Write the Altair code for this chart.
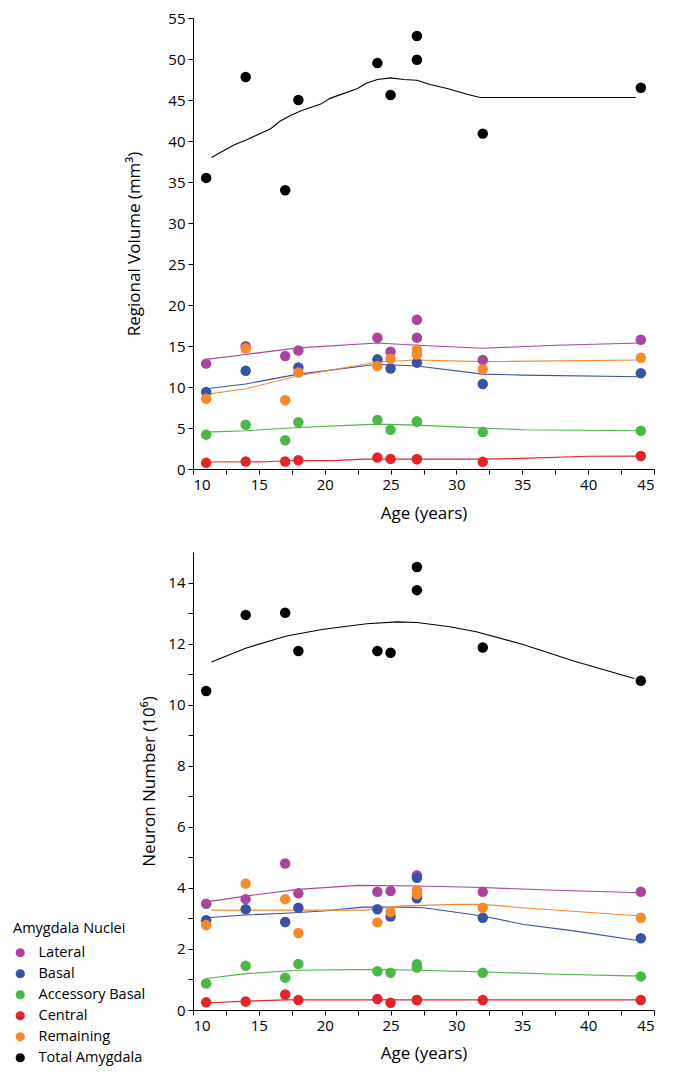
import altair as alt
import pandas as pd

# ---------------- data ----------------
ages = [11, 14, 17, 18, 24, 25, 27, 27, 32, 44]
nuclei = ["Lateral", "Basal", "Accessory Basal", "Central", "Remaining", "Total Amygdala"]
colors = ["#A8459C", "#3953A4", "#4BB748", "#E1252B", "#F6892B", "#000000"]

lateral_vol = [12.85, 14.97, 13.77, 14.45, 16.0, 14.3, 18.2, 16.0, 13.3, 15.76]
basal_vol = [9.38, 11.97, None, 12.37, 13.37, 12.25, 12.97, None, 10.37, 11.69]
accessory_vol = [4.19, 5.39, 3.51, 5.7, 5.99, 4.79, 5.78, 5.78, 4.5, 4.67]
central_vol = [0.75, 0.91, 0.91, 1.07, 1.39, 1.23, 1.2, 1.2, 0.87, 1.59]
remaining_vol = [8.58, 14.7, 8.38, 11.77, 12.57, 13.45, 14.56, 13.97, 12.17, 13.57]
total_vol = [35.5, 47.8, 34.0, 45.0, 49.5, 45.6, 52.8, 49.9, 40.9, 46.5]

lateral_num = [3.48, 3.63, 4.8, 3.82, 3.87, 3.9, 4.41, None, 3.87, 3.87]
basal_num = [2.94, 3.3, 2.88, 3.35, 3.3, 3.06, 4.33, 3.66, 3.02, 2.35]
accessory_num = [0.87, 1.45, 1.06, 1.51, 1.27, 1.22, 1.5, 1.39, 1.22, 1.1]
central_num = [0.25, 0.28, 0.51, 0.33, 0.36, 0.24, 0.33, 0.33, 0.33, 0.33]
remaining_num = [2.78, 4.14, 3.63, 2.52, 2.87, 3.21, 3.92, 3.79, 3.35, 3.02]
total_num = [10.45, 12.94, 13.01, 11.76, 11.76, 11.7, 14.51, 13.75, 11.87, 10.78]

lat_vol_fit_x = [11, 14, 18, 24, 27, 32, 37.6, 44]
lat_vol_fit_y = [13.37, 13.97, 14.77, 15.37, 15.09, 14.73, 15.09, 15.37]
bas_vol_fit_x = [11, 14, 18, 24, 27, 32, 35, 44]
bas_vol_fit_y = [9.78, 10.37, 11.57, 12.77, 12.57, 11.57, 11.45, 11.25]
acc_vol_fit_x = [11, 14, 18, 24, 27, 32, 35.1, 44]
acc_vol_fit_y = [4.5, 4.67, 5.07, 5.47, 5.35, 4.99, 4.79, 4.67]
cen_vol_fit_x = [11, 15.5, 17, 21, 23, 32, 35, 40, 44]
cen_vol_fit_y = [0.85, 0.88, 1.0, 1.05, 1.2, 1.2, 1.3, 1.55, 1.57]
rem_vol_fit_x = [11, 14, 18, 24, 27, 32, 44]
rem_vol_fit_y = [9.1, 9.78, 11.37, 13.05, 13.29, 13.09, 13.29]
tot_vol_fit_x = [11.4, 13.1, 14.0, 15.9, 16.6, 17.4, 18.2, 19.7, 20.4, 22.5, 23.1,
                 24.0, 25.0, 26.0, 27.0, 28.0, 29.3, 30.8, 31.8, 43.6]
tot_vol_fit_y = [38.0, 39.5, 40.1, 41.5, 42.4, 43.1, 43.7, 44.5, 45.2, 46.4, 47.0,
                 47.5, 47.7, 47.5, 47.4, 46.9, 46.4, 45.7, 45.3, 45.3]

lat_num_fit_x = [11, 14, 18, 22.5, 27, 32, 37.6, 44]
lat_num_fit_y = [3.54, 3.73, 3.95, 4.08, 4.06, 4.01, 3.92, 3.84]
bas_num_fit_x = [11, 14, 17, 19.9, 22.9, 26, 27.5, 32, 35, 38.9, 44]
bas_num_fit_y = [3.02, 3.11, 3.17, 3.24, 3.37, 3.37, 3.35, 3.08, 2.81, 2.59, 2.26]
acc_num_fit_x = [11, 14, 18, 24, 27, 32, 37.6, 44]
acc_num_fit_y = [1.03, 1.19, 1.3, 1.33, 1.3, 1.25, 1.17, 1.11]
cen_num_fit_x = [11, 14, 17, 18, 44]
cen_num_fit_y = [0.23, 0.29, 0.33, 0.33, 0.33]
rem_num_fit_x = [11.4, 17, 23, 26, 30, 32, 35, 44]
rem_num_fit_y = [3.27, 3.27, 3.27, 3.41, 3.46, 3.46, 3.35, 3.08]
tot_num_fit_x = [11.4, 14.0, 17.1, 19.9, 23.2, 25.5, 27.0, 29.5, 31.5, 35.0, 38.9, 43.5]
tot_num_fit_y = [11.4, 11.85, 12.25, 12.47, 12.65, 12.71, 12.69, 12.55, 12.39, 11.98, 11.43, 10.86]

x_ticks = [10 + 2.5 * i for i in range(15)]
vol_ticks = [0, 5, 10, 15, 20, 25, 30, 35, 40, 45, 50, 55]
num_ticks = list(range(15))

def point_table(series):
    rows = []
    for k, (nuc, vals) in enumerate(zip(nuclei, series)):
        for a, v in zip(ages, vals):
            if v is not None:
                rows.append({"age": a, "value": v, "nucleus": nuc, "k": k})
    return pd.DataFrame(rows)

def line_table(series):
    rows = []
    for k, (nuc, col, (xs, ys)) in enumerate(zip(nuclei, colors, series)):
        for i, (a, v) in enumerate(zip(xs, ys)):
            rows.append({"age": a, "value": v, "nucleus": nuc, "col": col, "i": i})
    return pd.DataFrame(rows)

vol_points = point_table([lateral_vol, basal_vol, accessory_vol, central_vol, remaining_vol, total_vol])
num_points = point_table([lateral_num, basal_num, accessory_num, central_num, remaining_num, total_num])
vol_lines = line_table([(lat_vol_fit_x, lat_vol_fit_y), (bas_vol_fit_x, bas_vol_fit_y),
                        (acc_vol_fit_x, acc_vol_fit_y), (cen_vol_fit_x, cen_vol_fit_y),
                        (rem_vol_fit_x, rem_vol_fit_y), (tot_vol_fit_x, tot_vol_fit_y)])
num_lines = line_table([(lat_num_fit_x, lat_num_fit_y), (bas_num_fit_x, bas_num_fit_y),
                        (acc_num_fit_x, acc_num_fit_y), (cen_num_fit_x, cen_num_fit_y),
                        (rem_num_fit_x, rem_num_fit_y), (tot_num_fit_x, tot_num_fit_y)])

FONT = "Open Sans"

def panel(points, lines, height, ydomain, yticks, ylabel_expr, ytitle, ytitle_pad, xtitle_pad, legend):
    x = alt.X("age:Q", scale=alt.Scale(domain=[10, 45], nice=False, zero=False),
              axis=alt.Axis(values=x_ticks, title="Age (years)",
                            labelExpr="datum.value % 5 == 0 ? datum.label : ''",
                            titlePadding=xtitle_pad))
    y = alt.Y("value:Q", scale=alt.Scale(domain=ydomain, nice=False),
              axis=alt.Axis(values=yticks, title=ytitle, labelExpr=ylabel_expr,
                            titlePadding=ytitle_pad))
    line_layer = alt.Chart(lines).mark_line(strokeWidth=1.1).encode(
        x=x, y=y,
        detail="nucleus:N",
        stroke=alt.Stroke("col:N", scale=None),
        order="i:Q",
    )
    leg = None
    if legend:
        leg = alt.Legend(title="Amygdala Nuclei", orient="none", legendX=-180, legendY=370,
                         symbolType="circle", symbolSize=85, symbolStrokeWidth=0,
                         labelFontSize=14.5, titleFontSize=14.5, titleFontWeight="normal",
                         labelFont=FONT, titleFont=FONT, rowPadding=6, titlePadding=9,
                         labelOffset=11, labelColor="black", titleColor="black")
    pt_layer = alt.Chart(points).mark_circle(size=110, opacity=1).encode(
        x=x, y=y,
        color=alt.Color("nucleus:N", scale=alt.Scale(domain=nuclei, range=colors), legend=leg),
        order="k:Q",
    )
    return alt.layer(line_layer, pt_layer).properties(width=461, height=height)

top = panel(vol_points, vol_lines, 451, [0, 55], vol_ticks, "datum.label",
            "Regional Volume (mm³)", 24, 13, False)
bottom = panel(num_points, num_lines, 458, [0, 15], num_ticks,
               "datum.value % 2 == 0 ? datum.label : ''", "Neuron Number (10⁶)", 9, 12, True)

chart = alt.vconcat(top, bottom, spacing=31).resolve_scale(color="independent").properties(
    padding={"left": 5, "top": 3, "right": 0, "bottom": 2}
).configure_view(stroke=None).configure_axis(
    domainColor="black", tickColor="black", tickSize=5, domainWidth=1, tickWidth=1,
    labelFont=FONT, titleFont=FONT, labelFontSize=15, titleFontSize=17,
    titleFontWeight="normal", labelColor="black", titleColor="black", grid=False,
    labelPadding=3,
)

chart.save("out.html", embed_options={"renderer": "svg", "actions": False})
